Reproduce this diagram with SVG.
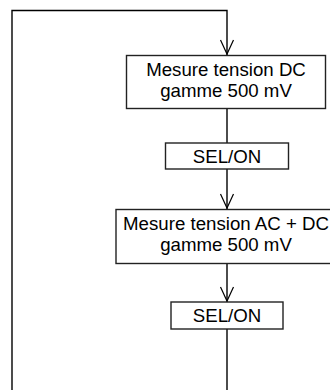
<svg xmlns="http://www.w3.org/2000/svg" width="330" height="390" viewBox="0 0 330 390">
<style>
.box{fill:#fff;stroke:#222;stroke-width:1.4}
.t{font-family:"Liberation Sans",Arial,sans-serif;font-size:18.67px;fill:#000;text-anchor:middle}
.ln{fill:none;stroke:#000;stroke-width:1.4}
.ah{fill:none;stroke:#000;stroke-width:1.2}
</style>
<rect width="330" height="390" fill="#fff"/>
<g id="connectors">
<path class="ln" d="M12,390 V10.5 H227 V55"/>
<path class="ah" d="M220.5,40 L227,54 L233.5,40"/>
<path class="ln" d="M227,109 V143"/>
<path class="ln" d="M227,169 V209"/>
<path class="ah" d="M220.5,194 L227,208 L233.5,194"/>
<path class="ln" d="M227,264 V302"/>
<path class="ah" d="M220.5,287 L227,301 L233.5,287"/>
<path class="ln" d="M227,329 V390"/>
</g>
<g id="n1">
<rect class="box" x="126.5" y="55.5" width="199" height="53"/>
<text class="t" x="226" y="75.5">Mesure tension DC</text>
<text class="t" x="226" y="96.5">gamme 500 mV</text>
</g>
<g id="n2">
<rect class="box" x="165.5" y="143" width="123" height="26"/>
<text class="t" x="227" y="162.5">SEL/ON</text>
</g>
<g id="n3">
<rect class="box" x="116" y="209.5" width="222" height="54"/>
<text class="t" x="226" y="229.5">Mesure tension AC + DC</text>
<text class="t" x="226" y="250.5">gamme 500 mV</text>
</g>
<g id="n4">
<rect class="box" x="171" y="302" width="112" height="27"/>
<text class="t" x="227" y="322">SEL/ON</text>
</g>
</svg>
